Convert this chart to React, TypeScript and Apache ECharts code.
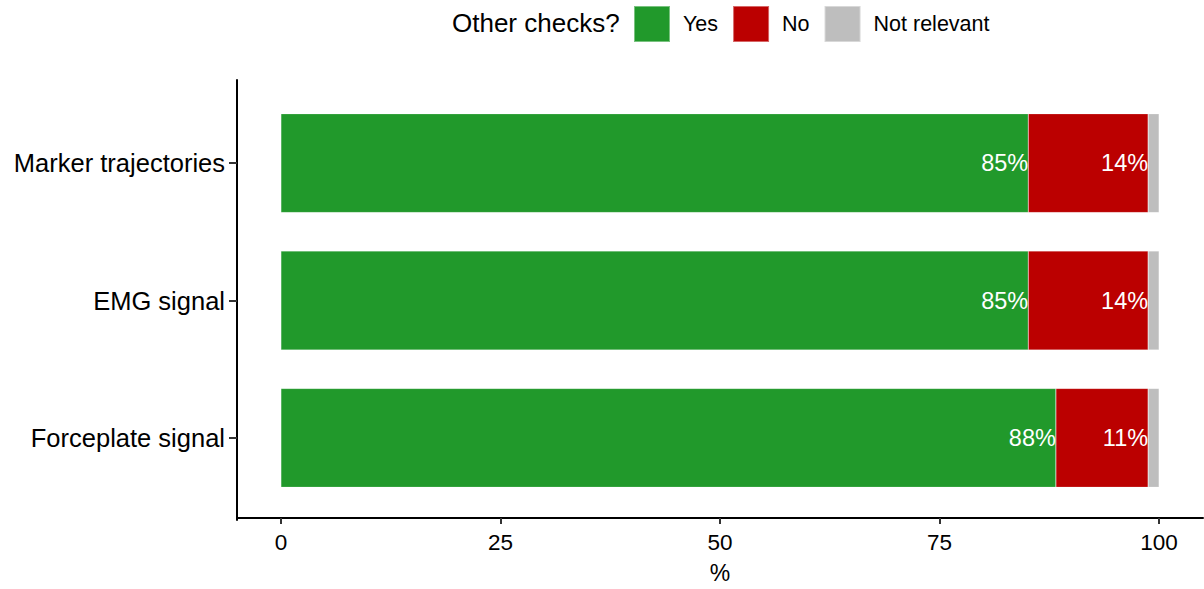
import React, { useEffect, useRef } from "react";
import * as echarts from "echarts";

const categories = ["Forceplate signal", "EMG signal", "Marker trajectories"];
const yesValues = [88.25, 85.1, 85.1];
const noValues = [10.5, 13.65, 13.65];
const notRelevantValues = [1.25, 1.25, 1.25];
const tickValues = [0, 25, 50, 75, 100];
const seriesNames = ["Yes", "No", "Not relevant"];
const colors = ["#21992B", "#BB0000", "#BEBEBE"];

const FONT = "Liberation Sans, Arial, Helvetica, sans-serif";

export default function App() {
  const ref = useRef<HTMLDivElement>(null);
  useEffect(() => {
    if (!ref.current) return;
    const chart = echarts.init(ref.current, undefined, { renderer: "svg" });
    const label = {
      show: true,
      position: "insideRight",
      distance: 0,
      color: "#fff",
      fontSize: 23.5,
      fontFamily: FONT,
      formatter: (p: any) => `${Math.round(p.value)}%`,
    };
    const allValues = [yesValues, noValues, notRelevantValues];
    chart.setOption({
      animation: false,
      textStyle: { fontFamily: FONT },
      title: {
        text: "Other checks?",
        left: 447,
        top: 5,
        textStyle: { fontSize: 26, fontWeight: "normal", color: "#000", fontFamily: FONT },
      },
      legend: {
        left: 628,
        top: 0,
        itemWidth: 36,
        itemHeight: 36,
        itemGap: 14,
        icon: "rect",
        data: seriesNames,
        textStyle: { fontSize: 21.5, color: "#000", fontFamily: FONT, padding: [0, 0, 0, 8] },
      },
      grid: [
        { left: 237, top: 94.5, width: 966, height: 414, containLabel: false },
        { left: 237, top: 80, width: 966, height: 440, containLabel: false },
      ],
      xAxis: [
        {
          type: "value",
          gridIndex: 0,
          min: -5,
          max: 105,
          offset: 11.5,
          name: "%",
          nameLocation: "middle",
          nameGap: 43,
          nameTextStyle: { fontSize: 23, color: "#000", fontFamily: FONT },
          axisLine: { show: true, onZero: false, lineStyle: { color: "#000", width: 2 } },
          axisTick: { show: true, length: 6, customValues: tickValues, lineStyle: { color: "#333", width: 2 } },
          axisLabel: { customValues: tickValues, fontSize: 22.5, color: "#000", margin: 13, fontFamily: FONT },
          splitLine: { show: false },
        },
        { type: "value", gridIndex: 1, show: false },
      ],
      yAxis: [
        {
          type: "category",
          gridIndex: 0,
          data: categories,
          axisLine: { show: false, onZero: false },
          axisTick: { show: true, alignWithLabel: true, length: 8, lineStyle: { color: "#333", width: 2 } },
          axisLabel: { fontSize: 25.5, color: "#000", margin: 12, fontFamily: FONT },
        },
        {
          type: "value",
          gridIndex: 1,
          axisLine: { show: true, onZero: false, lineStyle: { color: "#000", width: 2 } },
          axisTick: { show: false },
          axisLabel: { show: false },
          splitLine: { show: false },
        },
      ],
      series: seriesNames.map((name, i) => ({
        name,
        type: "bar",
        stack: "total",
        xAxisIndex: 0,
        yAxisIndex: 0,
        barWidth: "72%",
        data: allValues[i],
        itemStyle: { color: colors[i], borderColor: "rgba(255,255,255,0.4)", borderWidth: 0.5 },
        label: i < 2 ? label : { show: false },
      })),
    });
    return () => chart.dispose();
  }, []);
  return (
    <div
      ref={ref}
      style={{ position: "fixed", left: 0, top: 0, width: 1204, height: 589, background: "#fff" }}
    />
  );
}
